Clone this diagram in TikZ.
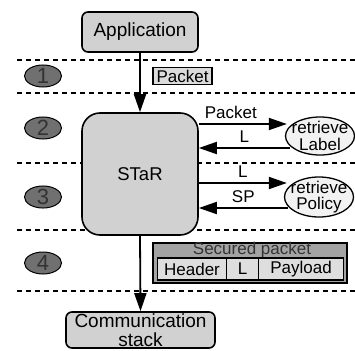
\documentclass[tikz,border=0pt]{standalone}
\usepackage{fontspec}
\setmainfont{Liberation Sans}
\usetikzlibrary{arrows.meta,shapes.geometric}
\definecolor{boxgray}{gray}{0.82}
\definecolor{numgray}{gray}{0.44}
\definecolor{numtext}{gray}{0.2}
\definecolor{pkgray}{gray}{0.86}
\definecolor{secgray}{gray}{0.64}
\definecolor{cellgray}{gray}{0.87}
\definecolor{ellgray}{gray}{0.95}
\newcommand\bigtxt{\fontsize{19}{21}\selectfont}
\newcommand\commtxt{\fontsize{19}{19.5}\selectfont}
\newcommand\startxt{\fontsize{18.5}{20}\selectfont}
\newcommand\smalltxt{\fontsize{17}{16.5}\selectfont}
\newcommand\numtxt{\fontsize{22}{22}\selectfont}
\begin{document}
\begin{tikzpicture}[x=1pt,y=-1pt,
  box/.style={draw=black,line width=1.6pt,fill=boxgray,rounded corners=6pt,inner sep=0pt},
  sepline/.style={line width=1.8pt,dash pattern=on 5pt off 4pt},
  arr/.style={line width=1.8pt,-{Triangle[length=18pt,width=12pt]}},
  numel/.style={ellipse,draw=black,line width=1pt,fill=numgray,minimum width=37pt,minimum height=22pt,inner sep=0pt,text=numtext,font=\numtxt},
  retr/.style={ellipse,draw=black,line width=1.3pt,fill=ellgray,minimum width=69pt,inner sep=0pt},
  cell/.style={draw=black,line width=1.3pt,fill=cellgray,minimum height=22pt,inner sep=0pt,font=\smalltxt}]
\useasboundingbox (0,0) rectangle (355,350);
% separators
\foreach \yy in {60,93,163,230,291}
  \draw[sepline] (17,\yy) -- (355,\yy);
% number ellipses
\node[numel] (n1) at (43,76) {1};
\node[numel] (n2) at (43,128) {2};
\node[numel] (n3) at (43,197) {3};
\node[numel] (n4) at (43,263) {4};
% main boxes
\node[box,minimum width=116pt,minimum height=40pt,font=\bigtxt] (app) at (140,32) {Application};
\node[box,rounded corners=18pt,minimum width=116pt,minimum height=122pt,font=\startxt] (star) at (140,174) {STaR};
\node[box,minimum width=149pt,minimum height=36pt,align=center,font=\commtxt] (comm) at (140.5,330) {Communication\\stack};
% packet label
\node[draw=black,line width=1.2pt,fill=pkgray,minimum width=59pt,minimum height=17pt,inner sep=0pt,font=\smalltxt] (pk) at (182.5,76) {Packet};
% retrieve ellipses
\node[retr,minimum height=38pt,label={[font=\smalltxt,align=center,inner sep=0pt]center:retrieve\\Label}] (lab) at (320,136) {};
\node[retr,minimum height=40pt,label={[font=\smalltxt,align=center,inner sep=0pt]center:retrieve\\Policy}] (pol) at (319,197) {};
% vertical arrows
\draw[arr] (app.south) -- (star.north);
\draw[arr] (star.south) -- (comm.north);
% horizontal arrows
\coordinate (ya) at (0,124);
\coordinate (yb) at (0,148);
\coordinate (yc) at (0,183);
\coordinate (yd) at (0,208);
\draw[arr] (star.east |- ya) -- node[above=1pt,font=\smalltxt,xshift=-12pt] {Packet} ([xshift=2pt]lab.west |- ya);
\draw[arr] ([xshift=5pt]lab.west |- yb) -- node[above=1pt,font=\smalltxt] {L} (star.east |- yb);
\draw[arr] (star.east |- yc) -- node[above=1pt,font=\smalltxt] {L} ([xshift=3pt]pol.west |- yc);
\draw[arr] ([xshift=4pt]pol.west |- yd) -- node[above=1pt,font=\smalltxt] {SP} (star.east |- yd);
% secured packet
\node[draw=black,line width=1.8pt,fill=secgray,minimum width=194pt,minimum height=40pt,inner sep=0pt] (sec) at (250,263) {};
\node[font=\smalltxt,text=numtext,inner sep=0pt] (sectitle) at (252,250) {Secured packet};
\node[cell,minimum width=69pt] (hdr) at (192,269) {Header};
\node[cell,minimum width=32pt] (lcell) at (242.5,269) {L};
\node[cell,minimum width=85pt] (pay) at (301,269) {Payload};
\end{tikzpicture}
\end{document}
